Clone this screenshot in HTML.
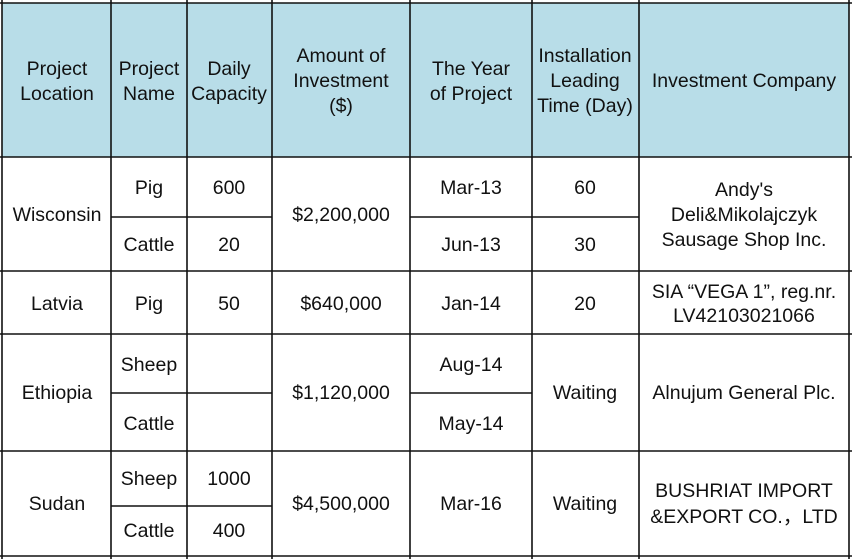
<!DOCTYPE html>
<html><head><meta charset="utf-8"><style>
html,body{margin:0;padding:0;background:#fff;}
svg{display:block;}
text{font-family:"Liberation Sans","Noto Sans CJK SC",sans-serif;font-size:19.5px;fill:#111;text-anchor:middle;dominant-baseline:central;}
</style></head><body>
<svg width="852" height="559" viewBox="0 0 852 559" xmlns="http://www.w3.org/2000/svg">
<rect x="2" y="3" width="847" height="154" fill="#b8dde8"/>
<g stroke="#111" stroke-width="1.6">
<line x1="0" y1="3" x2="852" y2="3"/>
<line x1="0" y1="157" x2="852" y2="157"/>
<line x1="0" y1="271" x2="852" y2="271"/>
<line x1="0" y1="334" x2="852" y2="334"/>
<line x1="0" y1="451" x2="852" y2="451"/>
<line x1="0" y1="556" x2="852" y2="556"/>
<line x1="2" y1="0" x2="2" y2="559"/>
<line x1="111" y1="0" x2="111" y2="559"/>
<line x1="187" y1="0" x2="187" y2="559"/>
<line x1="272" y1="0" x2="272" y2="559"/>
<line x1="410" y1="0" x2="410" y2="559"/>
<line x1="532" y1="0" x2="532" y2="559"/>
<line x1="639" y1="0" x2="639" y2="559"/>
<line x1="849" y1="0" x2="849" y2="559"/>
<line x1="111" y1="217" x2="272" y2="217"/>
<line x1="410" y1="217" x2="639" y2="217"/>
<line x1="111" y1="393" x2="272" y2="393"/>
<line x1="410" y1="393" x2="532" y2="393"/>
<line x1="111" y1="506" x2="272" y2="506"/>
</g>
<text x="57" y="69">Project</text><text x="57" y="94">Location</text>
<text x="149" y="69">Project</text><text x="149" y="94">Name</text>
<text x="229" y="69">Daily</text><text x="229" y="94">Capacity</text>
<text x="341" y="56">Amount of</text><text x="341" y="81">Investment</text><text x="341" y="106">($)</text>
<text x="471" y="69">The Year</text><text x="471" y="94">of Project</text>
<text x="585" y="56">Installation</text><text x="585" y="81">Leading</text><text x="585" y="106">Time (Day)</text>
<text x="744" y="81">Investment Company</text>

<text x="57" y="215">Wisconsin</text>
<text x="149" y="188">Pig</text><text x="229" y="188">600</text>
<text x="149" y="245">Cattle</text><text x="229" y="245">20</text>
<text x="341" y="215">$2,200,000</text>
<text x="471" y="188">Mar-13</text><text x="585" y="188">60</text>
<text x="471" y="245">Jun-13</text><text x="585" y="245">30</text>
<text x="744" y="190">Andy's</text><text x="744" y="215">Deli&amp;Mikolajczyk</text><text x="744" y="240">Sausage Shop Inc.</text>

<text x="57" y="304">Latvia</text><text x="149" y="304">Pig</text><text x="229" y="304">50</text>
<text x="341" y="304">$640,000</text><text x="471" y="304">Jan-14</text><text x="585" y="304">20</text>
<text x="744" y="292">SIA “VEGA 1”, reg.nr.</text><text x="744" y="316">LV42103021066</text>

<text x="57" y="393">Ethiopia</text>
<text x="149" y="365">Sheep</text><text x="149" y="424">Cattle</text>
<text x="341" y="393">$1,120,000</text>
<text x="471" y="365">Aug-14</text><text x="471" y="424">May-14</text>
<text x="585" y="393">Waiting</text>
<text x="744" y="393">Alnujum General Plc.</text>

<text x="57" y="504">Sudan</text>
<text x="149" y="479">Sheep</text><text x="229" y="479">1000</text>
<text x="149" y="531">Cattle</text><text x="229" y="531">400</text>
<text x="341" y="504">$4,500,000</text><text x="471" y="504">Mar-16</text>
<text x="585" y="504">Waiting</text>
<text x="744" y="491">BUSHRIAT IMPORT</text><text x="744" y="517">&amp;EXPORT CO.，LTD</text>
</svg>
</body></html>
